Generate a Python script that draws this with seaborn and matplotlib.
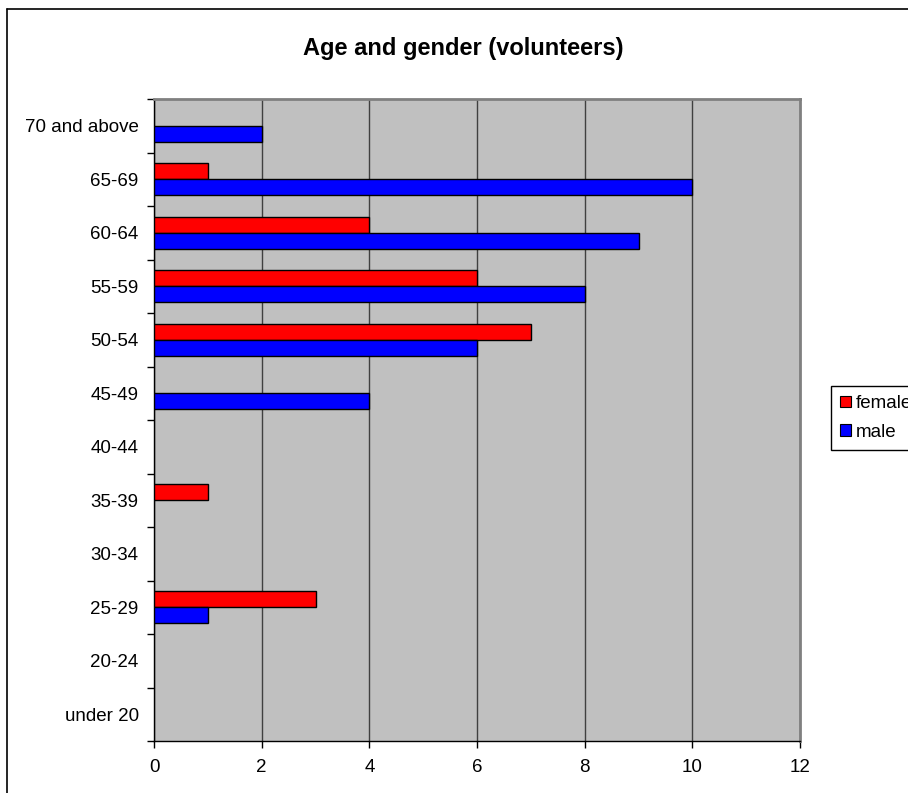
import matplotlib
matplotlib.use("Agg")
import matplotlib.pyplot as plt
import seaborn as sns
import pandas as pd
from matplotlib.patches import Patch
from matplotlib.lines import Line2D

age_groups = ["70 and above", "65-69", "60-64", "55-59", "50-54", "45-49",
              "40-44", "35-39", "30-34", "25-29", "20-24", "under 20"]
female = [0, 1, 4, 6, 7, 0, 0, 1, 0, 3, 0, 0]
male = [2, 10, 9, 8, 6, 4, 0, 0, 0, 1, 0, 0]
genders = ["female", "male"]
colors = {"female": "#FF0000", "male": "#0000FF"}
x_ticks = [0, 2, 4, 6, 8, 10, 12]

df = pd.DataFrame({
    "age": age_groups * 2,
    "count": female + male,
    "gender": ["female"] * len(age_groups) + ["male"] * len(age_groups),
})

sns.set_style("white")
plt.rcParams["font.family"] = ["Liberation Sans", "DejaVu Sans"]
plt.rcParams["text.color"] = "black"
plt.rcParams["xtick.color"] = "black"
plt.rcParams["ytick.color"] = "black"
plt.rcParams["axes.labelcolor"] = "black"

fig = plt.figure(figsize=(9.08, 7.93), dpi=100)
ax = fig.add_axes([154 / 908, 1 - 741 / 793, (800 - 154) / 908, (741 - 99) / 793])
ax.set_facecolor("#C0C0C0")

sns.barplot(data=df, y="age", x="count", hue="gender", order=age_groups,
            hue_order=genders, palette=colors, orient="h", width=0.6,
            edgecolor="black", linewidth=1.0, saturation=1, ax=ax,
            legend=False, zorder=3)

# empty groups leave no visible outline
for bar in ax.patches:
    if bar.get_width() == 0:
        bar.set_visible(False)

ax.set_xlim(0, 12)
ax.set_ylim(len(age_groups) - 0.5, -0.5)
ax.set_xticks(x_ticks)
ax.set_xticklabels([str(t) for t in x_ticks], fontsize=13.5)
ax.set_yticks(range(len(age_groups)))
ax.set_yticklabels(age_groups, fontsize=13.5)
ax.set_yticks([i - 0.5 for i in range(len(age_groups) + 1)], minor=True)
ax.tick_params(axis="y", which="major", length=0, pad=11)
ax.tick_params(axis="y", which="minor", length=5, width=1, color="black",
               direction="out", left=True)
ax.tick_params(axis="x", which="major", length=5, width=1, color="black",
               direction="out", bottom=True, pad=8)
ax.set_xlabel("")
ax.set_ylabel("")

ax.xaxis.grid(True, color="#404040", linewidth=1.0, zorder=1)
ax.yaxis.grid(False)
ax.set_axisbelow(True)

for side in ("left", "bottom"):
    ax.spines[side].set_color("black")
    ax.spines[side].set_linewidth(1.0)
for side in ("top", "right"):
    ax.spines[side].set_visible(True)
    ax.spines[side].set_color("#808080")
    ax.spines[side].set_linewidth(2.0)

fig.text(463 / 908, 1 - 48 / 793, "Age and gender (volunteers)",
         ha="center", va="center", fontsize=17, fontweight="bold", color="black")

handles = [Patch(facecolor=colors[g], edgecolor="black", linewidth=0.8) for g in genders]
leg = fig.legend(handles, genders, loc="upper left",
                 bbox_to_anchor=(831 / 908, 1 - 386 / 793), fontsize=13.5,
                 frameon=True, fancybox=False, framealpha=1, edgecolor="black",
                 handlelength=0.55, handleheight=0.55, handletextpad=0.25,
                 borderpad=0.5, labelspacing=0.6, borderaxespad=0)
leg.get_frame().set_linewidth(1.0)

# outer chart frame (left and top edges)
fig.add_artist(Line2D([7 / 908, 7 / 908], [0, 1 - 8.5 / 793], color="black",
                      linewidth=1.2, transform=fig.transFigure))
fig.add_artist(Line2D([7 / 908, 1], [1 - 8.5 / 793, 1 - 8.5 / 793], color="black",
                      linewidth=1.2, transform=fig.transFigure))

fig.savefig("out.png", dpi=100)
